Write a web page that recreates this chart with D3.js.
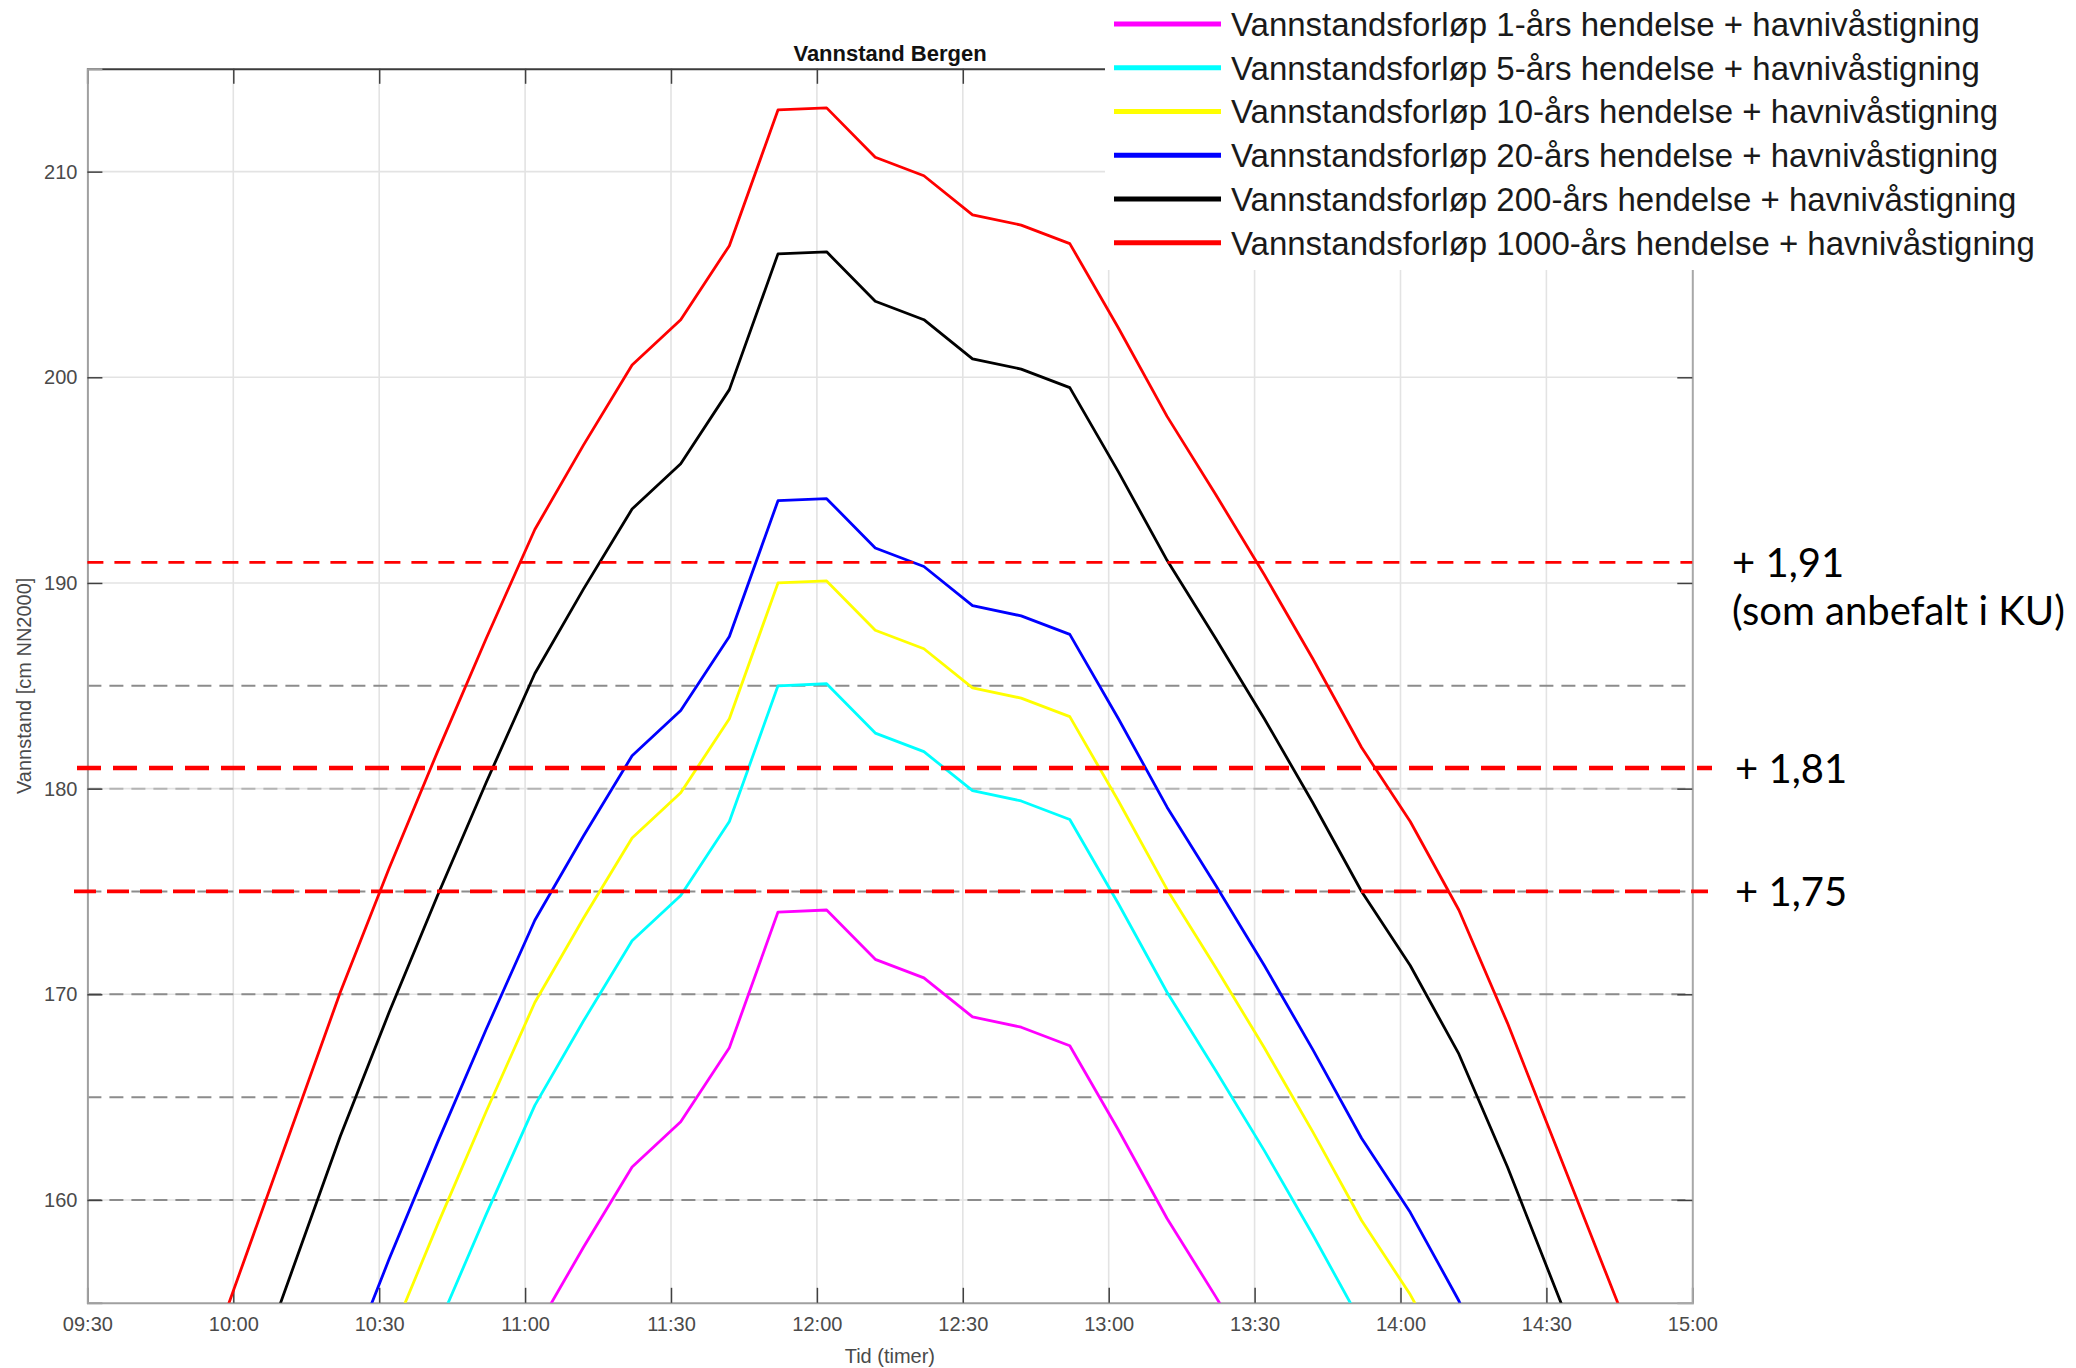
<!DOCTYPE html>
<html>
<head>
<meta charset="utf-8">
<script src="https://cdn.jsdelivr.net/npm/d3@7"></script>
<style>
  html, body { margin: 0; padding: 0; background: #fff; }
  svg { display: block; }
</style>
</head>
<body>
<svg id="chart" width="2076" height="1368"></svg>
<script>
// Sample times (10-minute steps)
const times = ["09:52","10:02","10:12","10:22","10:32","10:42","10:52","11:02","11:12","11:22",
  "11:32","11:42","11:52","12:02","12:12","12:22","12:32","12:42","12:52","13:02",
  "13:12","13:22","13:32","13:42","13:52","14:02","14:12","14:22","14:32","14:42","14:52"];

// Water level [cm NN2000] per return period (null = outside the plotted window)
const level1 = [null,null,null,null,null,null,148.3,153.6,157.7,161.6,163.8,167.4,174.0,174.1,171.7,170.8,
  168.9,168.4,167.5,163.4,159.1,155.3,151.4,null,null,null,null,null,null,null,null];
const level5 = [null,null,null,null,148.1,153.8,159.3,164.6,168.7,172.6,174.8,178.4,185.0,185.1,182.7,181.8,
  179.9,179.4,178.5,174.4,170.1,166.3,162.4,158.3,154.0,null,null,null,null,null,null];
const level10 = [null,null,null,147.1,153.1,158.8,164.3,169.6,173.7,177.6,179.8,183.4,190.0,190.1,187.7,186.8,
  184.9,184.4,183.5,179.4,175.1,171.3,167.4,163.3,159.0,155.4,151.1,null,null,null,null];
const level20 = [null,null,144.5,151.1,157.1,162.8,168.3,173.6,177.7,181.6,183.8,187.4,194.0,194.1,191.7,190.8,
  188.9,188.4,187.5,183.4,179.1,175.3,171.4,167.3,163.0,159.4,155.1,149.6,null,null,null];
const level200 = [null,149.9,156.5,163.1,169.1,174.8,180.3,185.6,189.7,193.6,195.8,199.4,206.0,206.1,203.7,202.8,
  200.9,200.4,199.5,195.4,191.1,187.3,183.4,179.3,175.0,171.4,167.1,161.6,155.6,149.6,null];
const level1000 = [150.3,156.9,163.5,170.1,176.1,181.8,187.3,192.6,196.7,200.6,202.8,206.4,213.0,213.1,210.7,209.8,
  207.9,207.4,206.5,202.4,198.1,194.3,190.4,186.3,182.0,178.4,174.1,168.6,162.6,156.6,150.6];

const seriesNames = [
  "Vannstandsforløp 1-års hendelse + havnivåstigning",
  "Vannstandsforløp 5-års hendelse + havnivåstigning",
  "Vannstandsforløp 10-års hendelse + havnivåstigning",
  "Vannstandsforløp 20-års hendelse + havnivåstigning",
  "Vannstandsforløp 200-års hendelse + havnivåstigning",
  "Vannstandsforløp 1000-års hendelse + havnivåstigning"
];
const seriesValues = [level1, level5, level10, level20, level200, level1000];
const seriesColors = ["#ff00ff", "#00ffff", "#ffff00", "#0000ff", "#000000", "#ff0000"];

// Axis settings
const xStart = "09:30", xEnd = "15:00";
const yDomain = [155, 215];
const yTicks = [160, 170, 180, 190, 200, 210];
const helperLevels = [160, 165, 170, 175, 180, 185];   // grey dashed helper lines

// Sea level rise thresholds
const thresholds = [
  { value: 191, label: "+ 1,91", note: "(som anbefalt i KU)" },
  { value: 181, label: "+ 1,81" },
  { value: 175, label: "+ 1,75" }
];

const parse = s => { const [h, m] = s.split(":").map(Number); return new Date(Date.UTC(2000, 0, 1, h, m)); };

const svg = d3.select("#chart");
const M = { left: 87.4, right: 1692.3, top: 68.8, bottom: 1302.8 };

const x = d3.scaleUtc().domain([parse(xStart), parse(xEnd)]).range([M.left, M.right]);
const y = d3.scaleLinear().domain(yDomain).range([M.bottom, M.top]);
const xTicks = d3.utcMinute.every(30).range(parse(xStart), d3.utcMinute.offset(parse(xEnd), 1));

svg.append("defs").append("clipPath").attr("id", "plotclip")
  .append("rect").attr("x", M.left).attr("y", M.top)
  .attr("width", M.right - M.left).attr("height", M.bottom - M.top);

// Grid
const grid = svg.append("g");
grid.selectAll("line.vx").data(xTicks.slice(1, -1)).join("line")
  .attr("x1", d => x(d)).attr("x2", d => x(d))
  .attr("y1", M.top).attr("y2", M.bottom)
  .attr("stroke", "#e3e3e3").attr("stroke-width", 1.6);
grid.selectAll("line.hy").data(yTicks).join("line")
  .attr("x1", M.left).attr("x2", M.right)
  .attr("y1", d => y(d)).attr("y2", d => y(d))
  .attr("stroke", "#e3e3e3").attr("stroke-width", 1.6);

// Grey dashed helper lines
grid.selectAll("line.help").data(helperLevels).join("line")
  .attr("x1", M.left).attr("x2", M.right)
  .attr("y1", d => y(d)).attr("y2", d => y(d))
  .attr("stroke", d => d === 180 ? "#b4b4b4" : "#8c8c8c")
  .attr("stroke-width", 2)
  .attr("stroke-dasharray", "14,8");

// Axes box
const axisG = svg.append("g");
const xAxisB = d3.axisBottom(x).tickValues(xTicks).tickFormat(d3.utcFormat("%H:%M")).tickSize(-15).tickPadding(14);
const xAxisT = d3.axisTop(x).tickValues(xTicks).tickFormat("").tickSize(-15);
const yAxisL = d3.axisLeft(y).tickValues(yTicks).tickSize(-15).tickPadding(10);
const yAxisR = d3.axisRight(y).tickValues(yTicks).tickFormat("").tickSize(-15);

function styleAxis(g, domainColor) {
  g.select(".domain").attr("stroke", domainColor).attr("stroke-width", 2);
  g.selectAll(".tick line").attr("stroke", "#404040").attr("stroke-width", 1.5);
  g.selectAll(".tick text").attr("fill", "#4a4a4a")
    .style("font-family", "'Liberation Sans', Arial, sans-serif").style("font-size", "20px");
}
axisG.append("g").attr("transform", `translate(0,${M.bottom})`).call(xAxisB).call(g => styleAxis(g, "#a0a0a0"));
axisG.append("g").attr("transform", `translate(0,${M.top})`).call(xAxisT).call(g => styleAxis(g, "#3c3c3c"));
axisG.append("g").attr("transform", `translate(${M.left},0)`).call(yAxisL).call(g => styleAxis(g, "#a0a0a0"));
axisG.append("g").attr("transform", `translate(${M.right},0)`).call(yAxisR).call(g => styleAxis(g, "#a8a8a8"));

// Water level curves
const line = d3.line()
  .defined(d => d.v != null)
  .x(d => x(parse(d.t)))
  .y(d => y(d.v));
svg.append("g").attr("clip-path", "url(#plotclip)")
  .selectAll("path").data(seriesValues).join("path")
  .attr("d", vals => line(vals.map((v, i) => ({ t: times[i], v }))))
  .attr("fill", "none")
  .attr("stroke", (d, i) => seriesColors[i])
  .attr("stroke-width", 2.8)
  .attr("stroke-linejoin", "round");

// Threshold lines
const thrStyle = {
  191: { x1: M.left, x2: M.right, w: 2.6, dash: "16,11" },
  181: { x1: 77, x2: 1712, w: 4.4, dash: "24,12" },
  175: { x1: 74, x2: 1708, w: 3.8, dash: "22,11" }
};
svg.append("g").selectAll("line").data(thresholds).join("line")
  .attr("x1", d => thrStyle[d.value].x1).attr("x2", d => thrStyle[d.value].x2)
  .attr("y1", d => y(d.value)).attr("y2", d => y(d.value))
  .attr("stroke", "#ff0000")
  .attr("stroke-width", d => thrStyle[d.value].w)
  .attr("stroke-dasharray", d => thrStyle[d.value].dash);

const thrText = svg.append("g")
  .style("font-family", "Lato, 'Open Sans', sans-serif").style("font-size", "40px").attr("fill", "#000");
thresholds.forEach(d => {
  thrText.append("text").attr("x", d.value === 191 ? 1732 : 1735).attr("y", y(d.value) + 15).text(d.label);
  if (d.note) thrText.append("text").attr("x", 1732).attr("y", y(d.value) + 63).text(d.note);
});

// Title and axis labels
svg.append("text").attr("x", 890).attr("y", 61).attr("text-anchor", "middle")
  .style("font-family", "'Liberation Sans', Arial, sans-serif").style("font-size", "22px")
  .style("font-weight", "bold").attr("fill", "#111").text("Vannstand Bergen");
svg.append("text").attr("x", (M.left + M.right) / 2).attr("y", 1363).attr("text-anchor", "middle")
  .style("font-family", "'Liberation Sans', Arial, sans-serif").style("font-size", "20px")
  .attr("fill", "#4a4a4a").text("Tid (timer)");
svg.append("text").attr("transform", `translate(31,${(M.top + M.bottom) / 2}) rotate(-90)`)
  .attr("text-anchor", "middle")
  .style("font-family", "'Liberation Sans', Arial, sans-serif").style("font-size", "20px")
  .attr("fill", "#4a4a4a").text("Vannstand [cm NN2000]");

// Legend panel
const legend = svg.append("g");
legend.append("rect").attr("x", 1105).attr("y", 0).attr("width", 2076 - 1105).attr("height", 270).attr("fill", "#fff");
const rowY = d3.scaleLinear().domain([0, 5]).range([24, 242.7]);
seriesNames.forEach((name, i) => {
  legend.append("line").attr("x1", 1114).attr("x2", 1221)
    .attr("y1", rowY(i)).attr("y2", rowY(i))
    .attr("stroke", seriesColors[i]).attr("stroke-width", 5);
  legend.append("text").attr("x", 1231).attr("y", rowY(i) + 12)
    .style("font-family", "'Liberation Sans', Arial, sans-serif").style("font-size", "33px")
    .attr("fill", "#1a1a1a").text(name);
});
</script>
</body>
</html>
